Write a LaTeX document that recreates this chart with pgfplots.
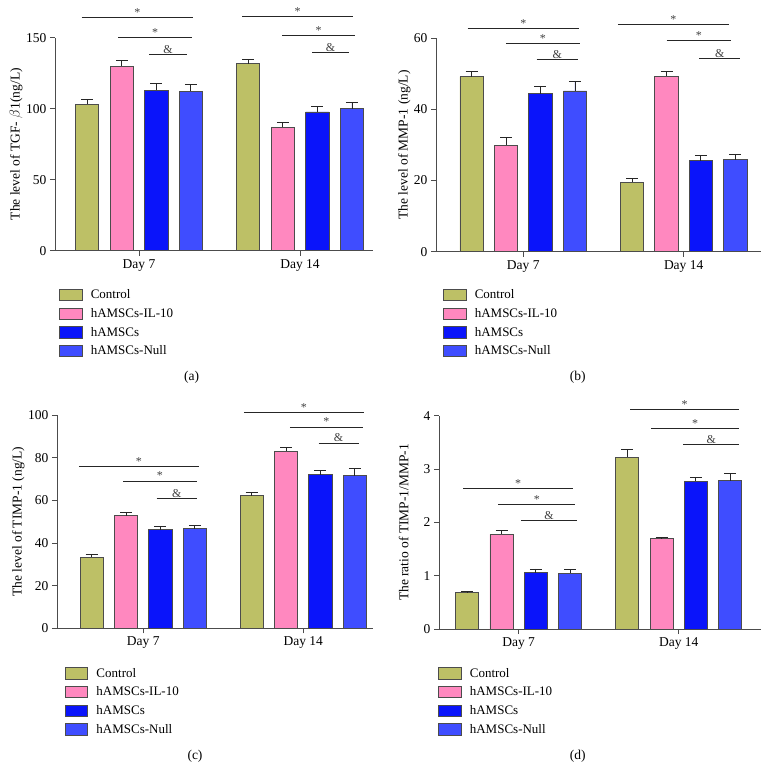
\documentclass[border=0pt]{standalone}
\usepackage{fontspec}
\setmainfont{Liberation Serif}
\usepackage{pgfplots}
\pgfplotsset{compat=1.18}
\definecolor{cC}{HTML}{BDC066}
\definecolor{cP}{HTML}{FF88BF}
\definecolor{cB}{HTML}{0A14FA}
\definecolor{cN}{HTML}{3F4DFF}
\newcommand{\fA}{\fontsize{13.5}{15}\selectfont}
\newcommand{\fG}{\fontsize{13}{15}\selectfont}
\newcommand{\fL}{\fontsize{13.5}{16}\selectfont}
\newcommand{\fS}{\fontsize{12}{14}\selectfont}
\pgfplotsset{
  panel/.style={
    scale only axis, clip=false,
    axis lines=left, axis line style={-, draw=black!70, line width=0.8pt},
    ymin=0, xtick={0,1}, xticklabels={Day 7, Day 14},
    tick align=outside, major tick length=5pt,
    tick style={draw=black!70, line width=0.8pt},
    ticklabel style={font=\fA},
    /pgf/number format/assume math mode=true,
    ylabel style={font=\fL, anchor=center},
    legend style={draw=none, fill=none, inner sep=0pt, outer sep=0pt, anchor=north west,
      font=\fG, nodes={inner sep=0pt, minimum height=18.7pt}, column sep=8.3pt},
    legend cell align=left,
    legend image code/.code={\draw[##1, line width=0.8pt] (0pt,-5.6pt) rectangle (22.4pt,5.6pt);},
  },
  bstyle/.style={ybar, bar width=0.145, bar shift=0pt, fill=#1, draw=black!70, line width=0.8pt,
    error bars/.cd, y dir=plus, y explicit,
    error bar style={draw=black!85, line width=0.8pt},
    error mark options={draw=black!85, line width=0.8pt, mark size=6pt, rotate=90}},
}
\newcommand{\sig}[4]{\draw[black!85, line width=0.8pt] (axis cs:#1,#3) -- (axis cs:#2,#3) node[midway, anchor=base, yshift=1pt, inner sep=0pt, font=\fS, text=black!75] {#4};}
\begin{document}
\begin{tikzpicture}
\useasboundingbox (0,0) rectangle (772pt,-782pt);
% (a)
\begin{axis}[panel, at={(55pt,-250.7pt)}, anchor=south west, width=318pt, height=213pt,
  xmin=-0.522, xmax=1.453, ymax=150, ytick={0,50,100,150},
  ylabel={The level of TGF- $\beta$1(ng/L)}, ylabel style={at={(axis description cs:-0.1226,0.5)}},
  legend style={at={(0.0135,-0.1641)}}]
\addplot[bstyle=cC] coordinates {(-0.322,103.3) +- (0,3.3) (0.678,131.7) +- (0,3.1)};
\addplot[bstyle=cP] coordinates {(-0.107,129.8) +- (0,4.0) (0.893,87.1) +- (0,3.1)};
\addplot[bstyle=cB] coordinates {(0.107,113.0) +- (0,4.9) (1.107,97.7) +- (0,4.0)};
\addplot[bstyle=cN] coordinates {(0.322,112.2) +- (0,4.8) (1.322,100.0) +- (0,4.2)};
\legend{Control, hAMSCs-IL-10, hAMSCs, hAMSCs-Null}
\sig{-0.356}{0.334}{164.1}{*}
\sig{-0.130}{0.329}{150.0}{*}
\sig{0.062}{0.298}{138.5}{\&}
\sig{0.640}{1.329}{164.8}{*}
\sig{0.888}{1.342}{151.9}{*}
\sig{1.075}{1.304}{139.4}{\&}
\end{axis}
% (b)
\begin{axis}[panel, at={(436pt,-251.7pt)}, anchor=south west, width=325pt, height=213.4pt,
  xmin=-0.544, xmax=1.482, ymax=60, ytick={0,20,40,60},
  ylabel={The level of MMP-1 (ng/L)}, ylabel style={at={(axis description cs:-0.0975,0.5)}},
  legend style={at={(0.0225,-0.1591)}}]
\addplot[bstyle=cC] coordinates {(-0.322,49.2) +- (0,1.4) (0.678,19.5) +- (0,1.0)};
\addplot[bstyle=cP] coordinates {(-0.107,29.9) +- (0,2.2) (0.893,49.3) +- (0,1.3)};
\addplot[bstyle=cB] coordinates {(0.107,44.4) +- (0,2.2) (1.107,25.6) +- (0,1.4)};
\addplot[bstyle=cN] coordinates {(0.322,45.2) +- (0,2.7) (1.322,25.9) +- (0,1.6)};
\legend{Control, hAMSCs-IL-10, hAMSCs, hAMSCs-Null}
\sig{-0.347}{0.349}{62.8}{*}
\sig{-0.108}{0.353}{58.6}{*}
\sig{0.084}{0.339}{54.1}{\&}
\sig{0.589}{1.281}{64.0}{*}
\sig{0.894}{1.295}{59.3}{*}
\sig{1.097}{1.353}{54.4}{\&}
\end{axis}
% (c)
\begin{axis}[panel, at={(57pt,-628.3pt)}, anchor=south west, width=315.7pt, height=213.3pt,
  xmin=-0.539, xmax=1.434, ymax=100, ytick={0,20,40,60,80,100},
  ylabel={The level of TIMP-1 (ng/L)}, ylabel style={at={(axis description cs:-0.1226,0.5)}},
  legend style={at={(0.0253,-0.1671)}}]
\addplot[bstyle=cC] coordinates {(-0.322,33.3) +- (0,1.5) (0.678,62.2) +- (0,1.4)};
\addplot[bstyle=cP] coordinates {(-0.107,52.8) +- (0,1.7) (0.893,83.0) +- (0,1.9)};
\addplot[bstyle=cB] coordinates {(0.107,46.2) +- (0,1.6) (1.107,72.0) +- (0,1.9)};
\addplot[bstyle=cN] coordinates {(0.322,46.7) +- (0,1.6) (1.322,71.5) +- (0,3.5)};
\legend{Control, hAMSCs-IL-10, hAMSCs, hAMSCs-Null}
\sig{-0.402}{0.346}{75.8}{*}
\sig{-0.125}{0.334}{69.1}{*}
\sig{0.084}{0.334}{60.8}{\&}
\sig{0.629}{1.379}{101.3}{*}
\sig{0.917}{1.371}{94.4}{*}
\sig{1.096}{1.346}{86.9}{\&}
\end{axis}
% (d)
\begin{axis}[panel, at={(439pt,-629pt)}, anchor=south west, width=322pt, height=213.3pt,
  xmin=-0.498, xmax=1.514, ymax=4, ytick={0,1,2,3,4},
  ylabel={The ratio of TIMP-1/MMP-1}, ylabel style={at={(axis description cs:-0.1096,0.5)}},
  legend style={at={(-0.002,-0.1639)}}]
\addplot[bstyle=cC] coordinates {(-0.322,0.68) +- (0,0.02) (0.678,3.22) +- (0,0.15)};
\addplot[bstyle=cP] coordinates {(-0.107,1.775) +- (0,0.065) (0.893,1.69) +- (0,0.03)};
\addplot[bstyle=cB] coordinates {(0.107,1.056) +- (0,0.07) (1.107,2.775) +- (0,0.075)};
\addplot[bstyle=cN] coordinates {(0.322,1.044) +- (0,0.07) (1.322,2.78) +- (0,0.13)};
\legend{Control, hAMSCs-IL-10, hAMSCs, hAMSCs-Null}
\sig{-0.346}{0.338}{2.64}{*}
\sig{-0.128}{0.354}{2.34}{*}
\sig{0.014}{0.366}{2.04}{\&}
\sig{0.696}{1.379}{4.11}{*}
\sig{0.829}{1.375}{3.76}{*}
\sig{1.029}{1.379}{3.46}{\&}
\end{axis}
\node[font=\fA] at (191.7pt,-377.7pt) {(a)};
\node[font=\fA] at (577.7pt,-377.7pt) {(b)};
\node[font=\fA] at (195pt,-756pt) {(c)};
\node[font=\fA] at (577.7pt,-756pt) {(d)};
\end{tikzpicture}
\end{document}
